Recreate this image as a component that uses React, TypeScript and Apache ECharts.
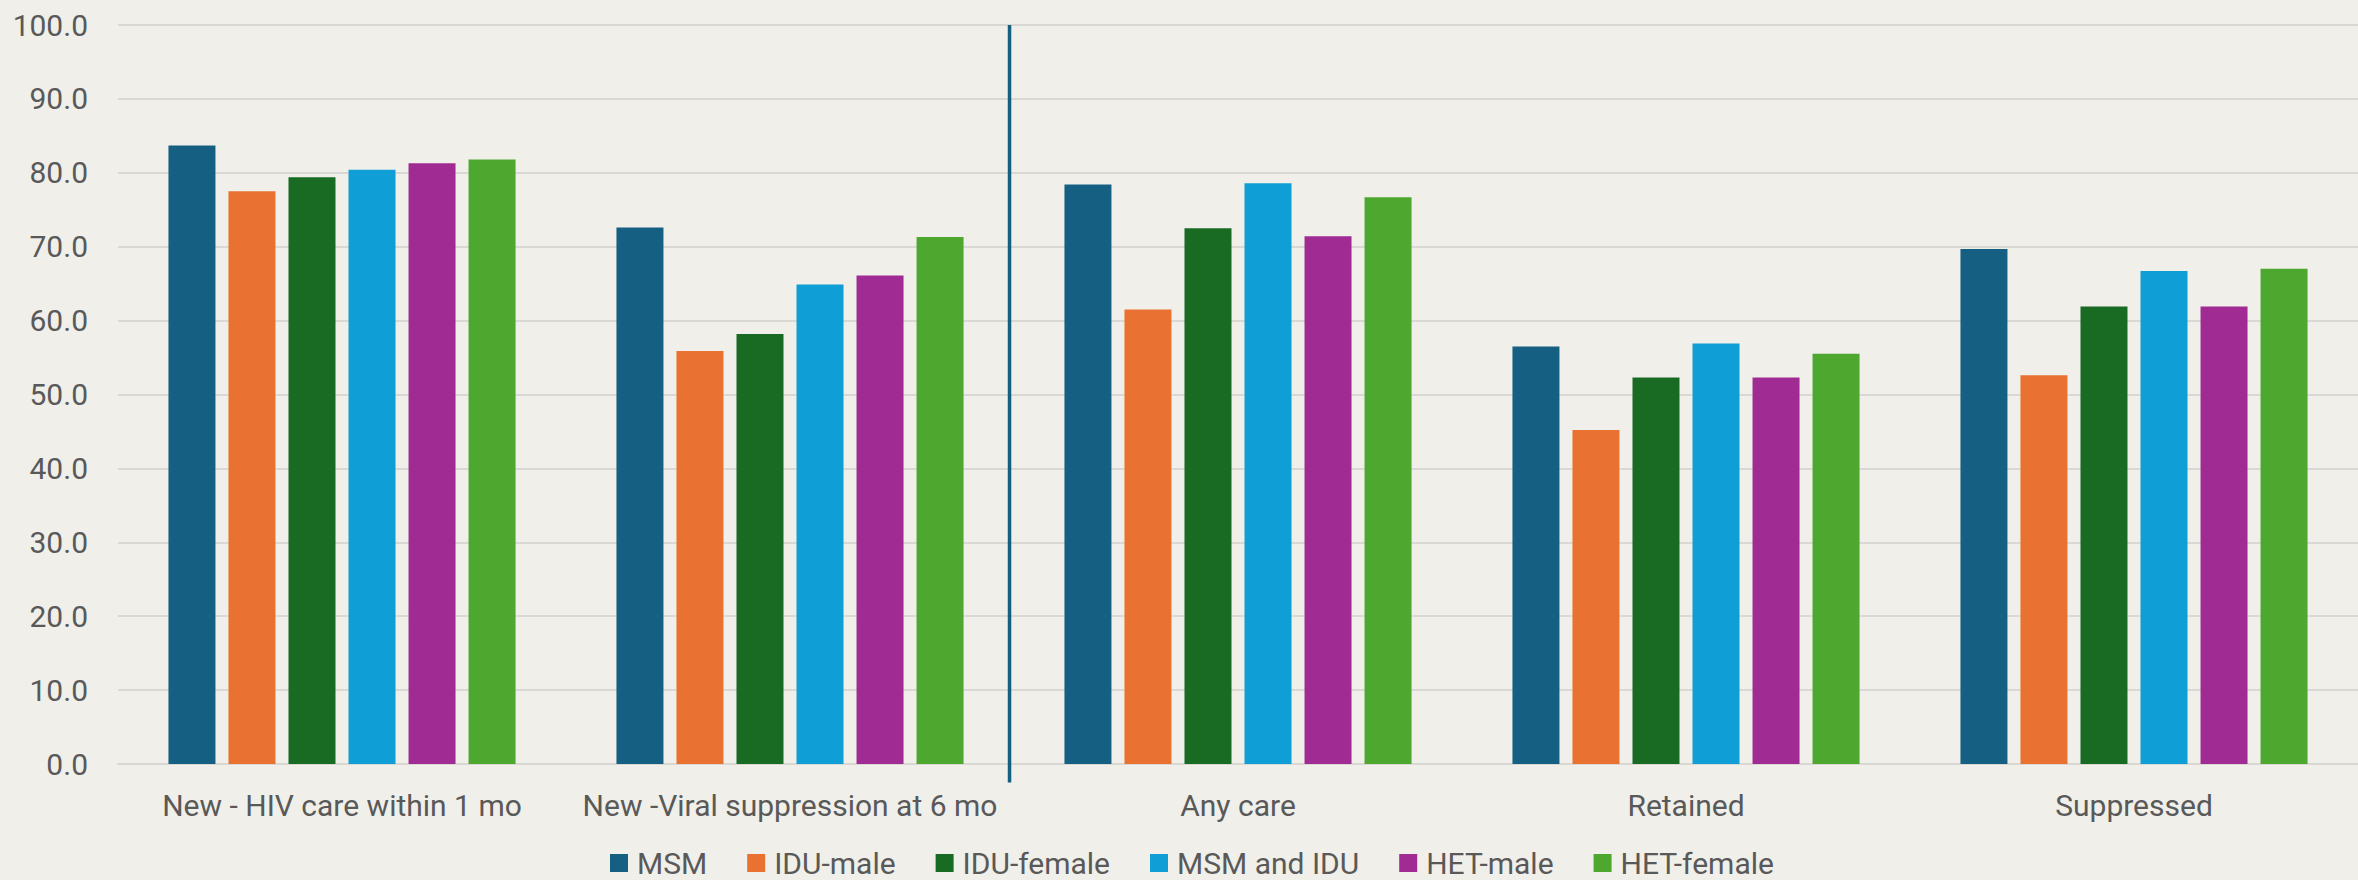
import React, { useEffect, useRef } from "react";
import * as echarts from "echarts";

const categories = [
  "New - HIV care within 1 mo",
  "New -Viral suppression at 6 mo",
  "Any care",
  "Retained",
  "Suppressed",
];
const seriesNames = ["MSM", "IDU-male", "IDU-female", "MSM and IDU", "HET-male", "HET-female"];
const msm = [83.7, 72.6, 78.4, 56.5, 69.7];
const iduMale = [77.5, 55.9, 61.5, 45.2, 52.6];
const iduFemale = [79.4, 58.2, 72.5, 52.3, 61.9];
const msmIdu = [80.4, 64.9, 78.6, 56.9, 66.7];
const hetMale = [81.3, 66.1, 71.4, 52.3, 61.9];
const hetFemale = [81.8, 71.3, 76.7, 55.5, 67.0];
const colors = ["#156082", "#E97132", "#196B24", "#0F9ED5", "#A02B93", "#4EA72E"];
const dividerPosition = 1.99;

export default function App() {
  const ref = useRef<HTMLDivElement>(null);
  useEffect(() => {
    if (!ref.current) return;
    const chart = echarts.init(ref.current, null, { renderer: "svg" });
    const values = [msm, iduMale, iduFemale, msmIdu, hetMale, hetFemale];
    const font = "Roboto";
    chart.setOption({
      animation: false,
      backgroundColor: "#F0EFEA",
      grid: { left: 118, top: 25, width: 2250, height: 739 },
      legend: {
        left: 605,
        top: 842,
        itemWidth: 18,
        itemHeight: 18,
        itemGap: 40,
        icon: "rect",
        data: seriesNames,
        textStyle: {
          fontFamily: font,
          fontSize: 30,
          lineHeight: 32,
          color: "#595959",
          padding: [0, 0, 0, 4],
        },
      },
      xAxis: [
        {
          type: "category",
          data: categories,
          axisTick: { show: false },
          axisLine: { lineStyle: { color: "#D9D8D4", width: 2 } },
          axisLabel: { fontFamily: font, fontSize: 30, color: "#595959", margin: 26, interval: 0 },
        },
        { type: "value", min: 0, max: 5, show: false },
      ],
      yAxis: {
        type: "value",
        min: 0,
        max: 100,
        interval: 10,
        axisLine: { show: false },
        axisTick: { show: false },
        splitLine: { lineStyle: { color: "#D9D8D4", width: 2 } },
        axisLabel: {
          fontFamily: font,
          fontSize: 30,
          color: "#595959",
          margin: 30,
          formatter: (v: number) => v.toFixed(1),
        },
      },
      series: seriesNames.map((name, i) => ({
        name,
        type: "bar",
        data: values[i],
        barWidth: 47,
        barGap: "27.7%",
        itemStyle: { color: colors[i] },
      })),
    });
    const x = chart.convertToPixel({ xAxisIndex: 1 }, dividerPosition) as number;
    const yTop = chart.convertToPixel({ yAxisIndex: 0 }, 100) as number;
    const yBottom = chart.convertToPixel({ yAxisIndex: 0 }, -2.5) as number;
    chart.setOption({
      graphic: [
        {
          type: "line",
          silent: true,
          shape: { x1: x, y1: yTop, x2: x, y2: yBottom },
          style: { stroke: "#156082", lineWidth: 3.5 },
          z: 10,
        },
      ],
    });
    return () => chart.dispose();
  }, []);
  return (
    <div
      ref={ref}
      style={{ position: "absolute", left: 0, top: 0, width: 2358, height: 880 }}
    />
  );
}
